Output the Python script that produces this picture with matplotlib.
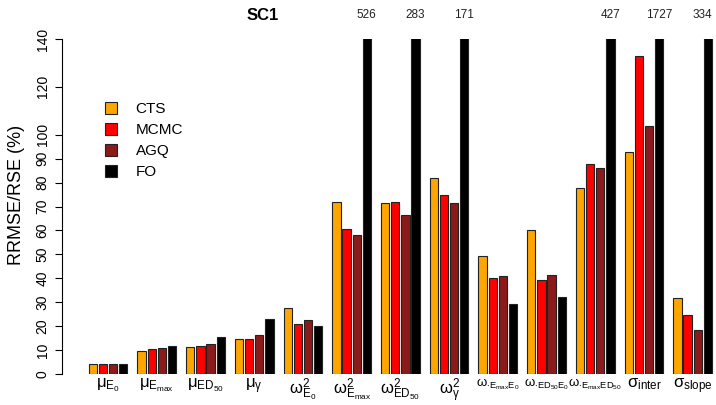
import numpy as np
import matplotlib
matplotlib.use("Agg")
from matplotlib import pyplot as plt
from matplotlib.patches import Patch
from matplotlib.transforms import blended_transform_factory

plt.rcParams['font.family'] = ['Liberation Sans', 'DejaVu Sans']
plt.rcParams['mathtext.fontset'] = 'custom'
plt.rcParams['mathtext.rm'] = 'Liberation Sans'
plt.rcParams['mathtext.it'] = 'Liberation Sans:italic'
plt.rcParams['mathtext.default'] = 'regular'

# Data
methods = ["CTS", "MCMC", "AGQ", "FO"]
colors = ["#FFA500", "#FF0000", "#8B1A1A", "#000000"]
param_labels = [r"$\mu_{E_0}$", r"$\mu_{E_{max}}$", r"$\mu_{ED_{50}}$", r"$\mu_{\gamma}$",
                r"$\omega^2_{E_0}$", r"$\omega^2_{E_{max}}$", r"$\omega^2_{ED_{50}}$",
                r"$\omega^2_{\gamma}$", r"$\omega_{\cdot E_{max}E_0}$",
                r"$\omega_{\cdot ED_{50}E_0}$", r"$\omega_{\cdot E_{max}ED_{50}}$",
                r"$\sigma_{inter}$", r"$\sigma_{slope}$"]
cts = [4.0, 9.6, 11.2, 14.6, 27.4, 72.0, 71.5, 82.0, 49.3, 60.3, 77.8, 92.9, 31.7]
mcmc = [4.0, 10.4, 11.5, 14.6, 20.8, 60.7, 71.8, 74.6, 40.3, 39.4, 87.9, 132.9, 24.6]
agq = [4.0, 11.0, 12.5, 16.1, 22.4, 57.9, 66.5, 71.5, 41.0, 41.2, 86.0, 103.5, 18.5]
fo = [4.0, 11.7, 15.6, 22.8, 20.0, 526, 283, 171, 29.3, 32.0, 427, 1727, 334]
yticks = [0, 10, 20, 30, 40, 50, 60, 70, 80, 90, 100, 120, 140]
ymax = 140

series = [cts, mcmc, agq, fo]

# layout of grouped bars (bar width = 1)
bar_pitch = 1.22
group_pitch = 5.87

fig = plt.figure(figsize=(7.16, 4.05), dpi=100)
ax = fig.add_axes([62 / 716, 31 / 405, 654 / 716, 335 / 405])

groups = np.arange(len(param_labels)) * group_pitch
for i, (vals, col, name) in enumerate(zip(series, colors, methods)):
    ax.bar(groups + i * bar_pitch + 0.5, vals, width=1.0, color=col,
           edgecolor="#222222", linewidth=0.8, label=name)

# values of bars running off the top
trans = blended_transform_factory(ax.transData, ax.transAxes)
for k, (g, v) in enumerate(zip(groups, fo)):
    if v > ymax:
        xc = g + 3 * bar_pitch + 0.5
        ha = "center"
        if k == len(fo) - 1:
            # keep the last label inside the figure
            xc, ha = xc + 0.5, "right"
        ax.text(xc, 1.072, str(v), transform=trans, ha=ha, va="center",
                fontsize=8.5, color="#222222", clip_on=False)

ax.set_xlim(-3.22, 75.58)
ax.set_ylim(0, ymax)
ax.set_yticks(yticks)
ax.set_yticklabels([str(t) for t in yticks], rotation=90, va="center", fontsize=10)
ax.tick_params(axis="y", length=5, pad=4)
ax.set_xticks(groups + 1.5 * bar_pitch + 0.5)
ax.set_xticklabels(param_labels, fontsize=12)
ax.tick_params(axis="x", length=0, pad=2)
# the cross-correlation labels are set smaller so they fit
for lbl in ax.get_xticklabels()[8:11]:
    lbl.set_fontsize(9.5)

for side in ["top", "right", "bottom"]:
    ax.spines[side].set_visible(False)
ax.spines["left"].set_linewidth(0.8)

fig.text(17 / 716, 1 - 195 / 405, "RRMSE/RSE (%)", rotation=90, ha="center",
         va="center", fontsize=13)
fig.text(263 / 716, 1 - 15 / 405, "SC1", ha="center", va="center",
         fontsize=12, fontweight="bold")

handles = [Patch(facecolor=c, edgecolor="#222222", linewidth=0.8) for c in colors]
ax.legend(handles, methods, loc="upper left", bbox_to_anchor=(105 / 716, 1 - 102 / 405),
          bbox_transform=fig.transFigure, frameon=False, fontsize=11,
          handlelength=0.8, handleheight=0.8, handletextpad=1.2,
          labelspacing=0.45, borderpad=0, borderaxespad=0)

fig.savefig("out.png", dpi=100)
